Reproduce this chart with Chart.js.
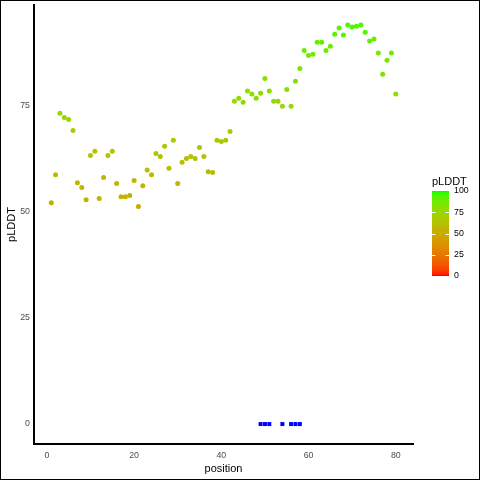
<!DOCTYPE html>
<html>
<head>
<meta charset="utf-8">
<script src="https://cdn.jsdelivr.net/npm/chart.js@4.4.1/dist/chart.umd.min.js"></script>
<style>
html,body{margin:0;padding:0;background:#fff;}
#wrap{width:480px;height:480px;}
</style>
</head>
<body>
<div id="wrap"><canvas id="c" width="480" height="480"></canvas></div>
<script>
const positions = [1,2,3,4,5,6,7,8,9,10,11,12,13,14,15,16,17,18,19,20,21,22,23,24,25,26,27,28,29,30,31,32,33,34,35,36,37,38,39,40,41,42,43,44,45,46,47,48,49,50,51,52,53,54,55,56,57,58,59,60,61,62,63,64,65,66,67,68,69,70,71,72,73,74,75,76,77,78,79,80];
const plddt = [52.2,58.8,73.3,72.3,71.8,69.2,56.9,55.8,52.9,63.3,64.3,53.2,58.1,63.3,64.3,56.7,53.6,53.6,53.9,57.4,51.3,56.2,59.9,58.8,63.8,63.1,65.5,60.3,66.9,56.7,61.7,62.6,63.1,62.6,65.2,63.1,59.5,59.3,66.9,66.6,66.9,69.0,76.1,76.8,75.9,78.5,77.8,76.8,78.0,81.5,78.5,76.1,76.1,74.9,78.9,74.9,80.8,83.8,88.1,86.9,87.2,90.0,90.0,88.1,89.1,91.9,93.4,91.7,94.1,93.6,93.8,94.1,92.4,90.3,90.8,87.5,82.5,85.8,87.5,77.8];
const markPositions = [49,50,51,54,56,57,58];
const markValues = [0,0,0,0,0,0,0];
const xTicks = [0,20,40,60,80];
const yTicks = [0,25,50,75];
const legendTicks = [0,25,50,75,100];
const colorLimits = [0,100];

// Lab interpolation between red and green (like ggplot's scale_colour_gradient)
function srgbToLin(c){c/=255;return c<=0.04045?c/12.92:Math.pow((c+0.055)/1.055,2.4);}
function linToSrgb(c){c=Math.max(0,Math.min(1,c));const v=c<=0.0031308?12.92*c:1.055*Math.pow(c,1/2.4)-0.055;return Math.round(Math.max(0,Math.min(1,v))*255);}
const Xn=0.95047,Yn=1,Zn=1.08883;
function f(t){return t>0.008856?Math.cbrt(t):7.787*t+16/116;}
function finv(t){return t>0.206893?t*t*t:(t-16/116)/7.787;}
function rgbToLab(r,g,b){
  const R=srgbToLin(r),G=srgbToLin(g),B=srgbToLin(b);
  const X=0.4124*R+0.3576*G+0.1805*B, Y=0.2126*R+0.7152*G+0.0722*B, Z=0.0193*R+0.1192*G+0.9505*B;
  const fx=f(X/Xn),fy=f(Y/Yn),fz=f(Z/Zn);
  return [116*fy-16,500*(fx-fy),200*(fy-fz)];
}
function labToRgb(L,a,b){
  const fy=(L+16)/116,fx=fy+a/500,fz=fy-b/200;
  const X=Xn*finv(fx),Y=Yn*finv(fy),Z=Zn*finv(fz);
  const R=3.2406*X-1.5372*Y-0.4986*Z, G=-0.9689*X+1.8758*Y+0.0415*Z, B=0.0557*X-0.2040*Y+1.0570*Z;
  return [linToSrgb(R),linToSrgb(G),linToSrgb(B)];
}
const labLow=rgbToLab(255,0,0), labHigh=rgbToLab(0,255,0);
function colourFor(v){
  let t=(v-colorLimits[0])/(colorLimits[1]-colorLimits[0]);t=Math.max(0,Math.min(1,t));
  const L=labLow[0]+(labHigh[0]-labLow[0])*t, a=labLow[1]+(labHigh[1]-labLow[1])*t, b=labLow[2]+(labHigh[2]-labLow[2])*t;
  const c=labToRgb(L,a,b);
  return 'rgb('+c[0]+','+c[1]+','+c[2]+')';
}

const FONT="'Liberation Sans', Arial, sans-serif";

const colourbarPlugin = {
  id:'colourbar',
  afterDraw(chart){
    const ctx=chart.ctx;
    const bx=432, bw=17, top=191, bottom=276;
    ctx.save();
    ctx.fillStyle='#000';
    ctx.font='11px '+FONT;
    ctx.textAlign='left';ctx.textBaseline='middle';
    ctx.fillText('pLDDT',bx,182);
    const g=ctx.createLinearGradient(0,bottom,0,top);
    for(let i=0;i<=40;i++){const t=i/40;g.addColorStop(t,colourFor(colorLimits[0]+t*(colorLimits[1]-colorLimits[0])));}
    ctx.fillStyle=g;
    ctx.fillRect(bx,top,bw,bottom-top);
    ctx.font='8.8px '+FONT;
    ctx.fillStyle='#000';
    legendTicks.forEach(v=>{
      const y=bottom-(v-colorLimits[0])/(colorLimits[1]-colorLimits[0])*(bottom-top);
      if(v>colorLimits[0]&&v<colorLimits[1]){
        ctx.strokeStyle='#fff';ctx.lineWidth=1;
        ctx.beginPath();
        ctx.moveTo(bx,Math.round(y)+0.5);ctx.lineTo(bx+3.4,Math.round(y)+0.5);
        ctx.moveTo(bx+bw-3.4,Math.round(y)+0.5);ctx.lineTo(bx+bw,Math.round(y)+0.5);
        ctx.stroke();
      }
      ctx.fillText(String(v),bx+bw+5,y);
    });
    ctx.strokeStyle='#000';ctx.lineWidth=1;
    ctx.strokeRect(0.5,0.5,479,479);
    ctx.restore();
  }
};

new Chart(document.getElementById('c'),{
  type:'scatter',
  data:{
    datasets:[
      {
        label:'pLDDT',
        data:positions.map((p,i)=>({x:p,y:plddt[i]})),
        backgroundColor:plddt.map(colourFor),
        borderWidth:0,
        pointRadius:2.5,
        pointStyle:'circle'
      },
      {
        label:'marks',
        data:markPositions.map((p,i)=>({x:p,y:markValues[i]})),
        backgroundColor:'#0000FF',
        borderWidth:0,
        pointRadius:2.83,
        pointStyle:'rect'
      }
    ]
  },
  options:{
    responsive:false,
    animation:false,
    devicePixelRatio:1,
    layout:{padding:{left:0,right:67,top:5,bottom:0}},
    plugins:{legend:{display:false},tooltip:{enabled:false}},
    scales:{
      x:{
        type:'linear',
        min:-2.95,max:83.95,
        afterBuildTicks(s){s.ticks=xTicks.map(v=>({value:v}));},
        afterFit(s){s.height=36;s.paddingLeft=0;s.paddingRight=0;},
        grid:{display:false,drawTicks:false},
        border:{display:true,color:'#000',width:2},
        ticks:{padding:6,color:'#4D4D4D',font:{family:FONT,size:8.8},maxRotation:0,autoSkip:false},
        title:{display:true,text:'position',color:'#000',font:{family:FONT,size:11},padding:{top:0,bottom:4}}
      },
      y:{
        type:'linear',
        min:-4.705,max:98.8,
        afterBuildTicks(s){s.ticks=yTicks.map(v=>({value:v}));},
        afterFit(s){s.width=34;s.paddingTop=0;s.paddingBottom=0;},
        grid:{display:false,drawTicks:false},
        border:{display:true,color:'#000',width:2},
        ticks:{padding:4,color:'#4D4D4D',font:{family:FONT,size:8.8},autoSkip:false},
        title:{display:true,text:'pLDDT',color:'#000',font:{family:FONT,size:11},padding:{top:5,bottom:0}}
      }
    }
  },
  plugins:[colourbarPlugin]
});
</script>
</body>
</html>
